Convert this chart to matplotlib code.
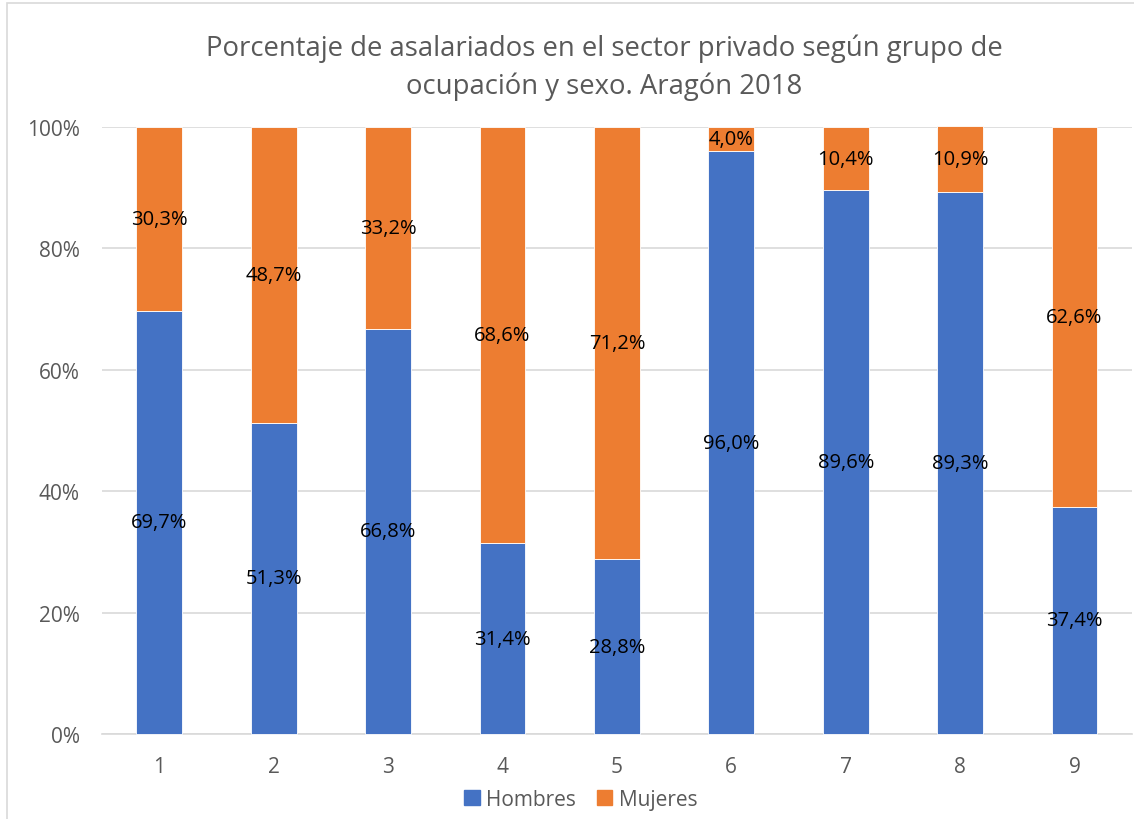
import matplotlib.pyplot as plt
from matplotlib.patches import Rectangle, Patch

# data
grupos = ["1", "2", "3", "4", "5", "6", "7", "8", "9"]
hombres = [69.7, 51.3, 66.8, 31.4, 28.8, 96.0, 89.6, 89.3, 37.4]
mujeres = [30.3, 48.7, 33.2, 68.6, 71.2, 4.0, 10.4, 10.9, 62.6]
yticks = [0, 20, 40, 60, 80, 100]

azul = "#4472c4"
naranja = "#ed7d31"
gris = "#595959"

plt.rcParams['font.family'] = ['Open Sans', 'DejaVu Sans']

fig = plt.figure(figsize=(11.34, 8.2), dpi=100)
ax = fig.add_axes([0.09, 0.1037, 0.908, 0.7402])

x = list(range(1, len(grupos) + 1))
b1 = ax.bar(x, hombres, width=0.4, color=azul, edgecolor="white", linewidth=0.6, clip_on=False, zorder=3)
b2 = ax.bar(x, mujeres, width=0.4, bottom=hombres, color=naranja, edgecolor="white", linewidth=0.6, clip_on=False, zorder=3)

# data labels centred in each segment
for xi, h, m in zip(x, hombres, mujeres):
    ax.text(xi, h / 2, f"{h:.1f}%".replace(".", ","), ha="center", va="center", fontsize=14.5, color="black", zorder=4)
    ax.text(xi, h + m / 2, f"{m:.1f}%".replace(".", ","), ha="center", va="center", fontsize=14.5, color="black", zorder=4)

ax.set_xlim(0.5, len(grupos) + 0.5)
ax.set_ylim(0, 100)
ax.set_xticks(x)
ax.set_xticklabels(grupos)
ax.set_yticks(yticks)
ax.set_yticklabels([f"{t}%" for t in yticks])
ax.tick_params(length=0, labelsize=15, colors=gris)
ax.tick_params(axis="x", pad=16)
ax.tick_params(axis="y", pad=16)

ax.grid(axis="y", color="#d9d9d9", linewidth=1.2, zorder=0)
for s in ["top", "right", "left"]:
    ax.spines[s].set_visible(False)
ax.spines["bottom"].set_color("#d9d9d9")
ax.spines["bottom"].set_linewidth(1.2)

fig.text(0.533, 0.917, "Porcentaje de asalariados en el sector privado según grupo de\nocupación y sexo. Aragón 2018",
         ha="center", va="center", fontsize=19.8, color=gris, linespacing=1.45)

handles = [Patch(color=azul, label="Hombres"), Patch(color=naranja, label="Mujeres")]
fig.legend(handles=handles, loc="center", bbox_to_anchor=(0.512, 0.024), ncol=2, frameon=False,
           fontsize=15, handlelength=0.75, handleheight=0.75, handletextpad=0.3, columnspacing=1.0,
           labelcolor=gris)

# chart border
fig.patches.append(Rectangle((7 / 1134, -0.05), 1.1, 1.0 - 4 / 820 + 0.05, transform=fig.transFigure,
                             fill=False, edgecolor="#d9d9d9", linewidth=1.2))

fig.savefig("out.png", dpi=100)
